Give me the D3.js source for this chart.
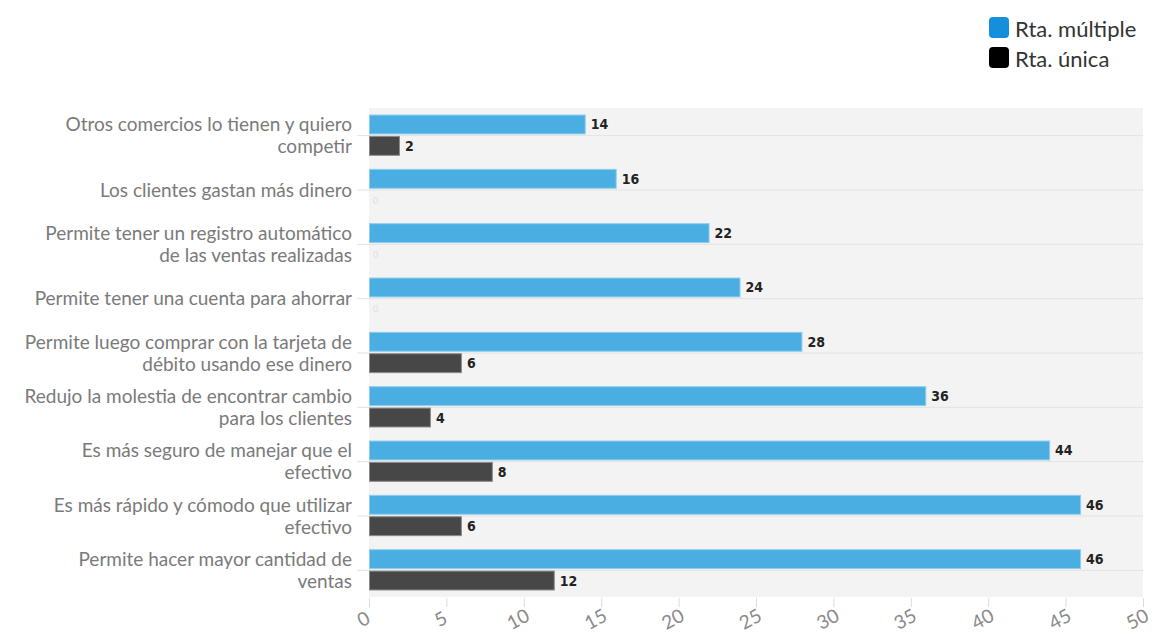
<!DOCTYPE html>
<html>
<head>
<meta charset="utf-8">
<script src="https://cdn.jsdelivr.net/npm/d3@7"></script>
<style>
  html, body { margin: 0; padding: 0; background: #fff; }
  svg { display: block; }
</style>
</head>
<body>
<svg id="chart" width="1152" height="638"></svg>
<script>
// Reasons for accepting card payments; each label line separated by "|"
const categories = [
  "Otros comercios lo tienen y quiero|competir",
  "Los clientes gastan más dinero",
  "Permite tener un registro automático|de las ventas realizadas",
  "Permite tener una cuenta para ahorrar",
  "Permite luego comprar con la tarjeta de|débito usando ese dinero",
  "Redujo la molestia de encontrar cambio|para los clientes",
  "Es más seguro de manejar que el|efectivo",
  "Es más rápido y cómodo que utilizar|efectivo",
  "Permite hacer mayor cantidad de|ventas"
];

const seriesNames = ["Rta. múltiple", "Rta. única"];
const multipleValues = [14, 16, 22, 24, 28, 36, 44, 46, 46];
const singleValues = [2, 0, 0, 0, 6, 4, 8, 6, 12];
const xTicks = [0, 5, 10, 15, 20, 25, 30, 35, 40, 45, 50];

const barColors = ["#4aaee2", "#474747"];
const barStrokes = ["#8fcdf0", "#8a8a8a"];
const legendColors = ["#138fdc", "#000000"];

const FONT = "Lato, 'Open Sans', sans-serif";
const svg = d3.select("#chart");

const plot = { left: 369, right: 1143, top: 108, bottom: 597 };

const x = d3.scaleLinear().domain([0, 50]).range([plot.left, plot.right]);
const y = d3.scaleBand().domain(categories).range([plot.top, plot.bottom]).paddingInner(0.24).paddingOuter(0.12);
const sub = d3.scaleBand().domain(seriesNames).range([0, y.bandwidth()]).paddingInner(0.07);

// plot background
svg.append("rect")
  .attr("x", plot.left).attr("y", plot.top)
  .attr("width", plot.right - plot.left).attr("height", plot.bottom - plot.top)
  .attr("fill", "#f3f3f3");

// category guide lines through the centre of each group
const center = c => y(c) + y.bandwidth() / 2;
svg.append("g").selectAll("line").data(categories).join("line")
  .attr("x1", plot.left - 12).attr("x2", plot.right)
  .attr("y1", d => center(d) + 0.5).attr("y2", d => center(d) + 0.5)
  .attr("stroke", "#e2e2e2").attr("stroke-width", 1);

// category labels
const labelG = svg.append("g");
categories.forEach(c => {
  const lines = c.split("|");
  const lh = 22;
  const t = labelG.append("text")
    .attr("x", 352)
    .attr("y", center(c) - (lines.length - 1) * lh / 2 - 1)
    .attr("text-anchor", "end")
    .attr("dominant-baseline", "central")
    .attr("font-family", FONT)
    .attr("font-size", 19)
    .attr("fill", "#7a7a7a");
  lines.forEach((ln, i) => {
    t.append("tspan").attr("x", 352).attr("dy", i === 0 ? 0 : lh).text(ln);
  });
});

// bars
const series = [multipleValues, singleValues];
series.forEach((vals, si) => {
  const g = svg.append("g");
  const rows = categories.map((c, i) => ({ c, v: vals[i] }));
  g.selectAll("rect").data(rows.filter(d => d.v > 0)).join("rect")
    .attr("x", x(0) + 0.5)
    .attr("y", d => y(d.c) + sub(seriesNames[si]) + 0.5)
    .attr("width", d => x(d.v) - x(0) - 1)
    .attr("height", sub.bandwidth() - 1)
    .attr("fill", barColors[si])
    .attr("stroke", barStrokes[si])
    .attr("stroke-width", 1);
  g.selectAll("text").data(rows).join("text")
    .attr("x", d => d.v > 0 ? x(d.v) + 5 : x(0) + 4)
    .attr("y", d => y(d.c) + sub(seriesNames[si]) + sub.bandwidth() / 2)
    .attr("dominant-baseline", "central")
    .attr("font-family", d => d.v > 0 ? "'Liberation Sans Narrow', 'DejaVu Sans Condensed', sans-serif" : FONT)
    .attr("font-weight", d => d.v > 0 ? "bold" : "normal")
    .attr("font-size", d => d.v > 0 ? 14 : 9)
    .attr("fill", d => d.v > 0 ? "#222" : "#e0e0e0")
    .text(d => d.v);
});

// x axis
const xAxis = d3.axisBottom(x).tickValues(xTicks).tickSize(9).tickFormat(d3.format("d"));
const ax = svg.append("g").attr("transform", `translate(0,${plot.bottom + 1})`).call(xAxis);
ax.select(".domain").remove();
ax.selectAll(".tick line").attr("stroke", "#dcdcdc");
ax.selectAll(".tick text")
  .attr("font-family", FONT)
  .attr("font-size", 19)
  .attr("fill", "#8a8a8a")
  .attr("text-anchor", "middle")
  .attr("dy", 0)
  .attr("y", 0)
  .attr("transform", "translate(-3,27) rotate(-28)");

// legend
const legend = svg.append("g").attr("transform", "translate(989,17)");
seriesNames.forEach((n, i) => {
  const row = legend.append("g").attr("transform", `translate(0,${i * 30})`);
  row.append("rect").attr("width", 20).attr("height", 21).attr("rx", 4)
    .attr("fill", legendColors[i]);
  row.append("text").attr("x", 26).attr("y", 11)
    .attr("dominant-baseline", "central")
    .attr("font-family", FONT).attr("font-size", 22).attr("fill", "#333")
    .text(n);
});
</script>
</body>
</html>
